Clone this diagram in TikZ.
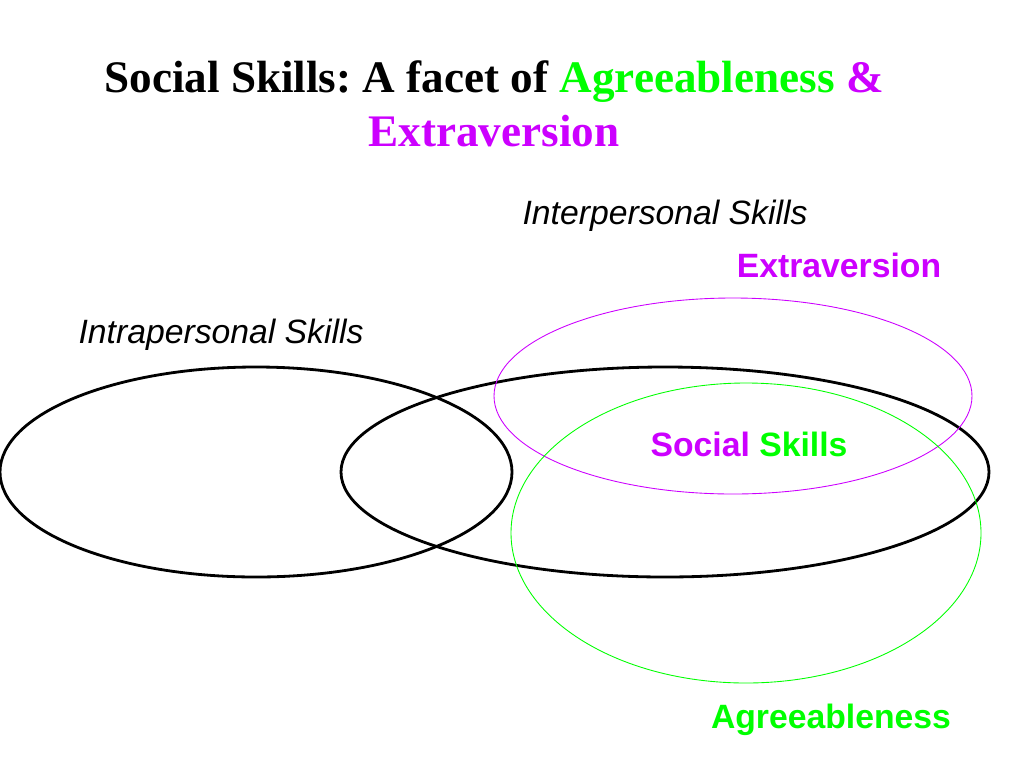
\documentclass[tikz,border=0pt]{standalone}
\usepackage{fontspec}
\setmainfont{Liberation Serif}
\setsansfont{Liberation Sans}
\usetikzlibrary{positioning}
\frenchspacing

\definecolor{extra}{RGB}{204,0,255}
\definecolor{agree}{RGB}{0,255,0}

\begin{document}
\begin{tikzpicture}[
            x=0.02cm, y=-0.02cm,
            title/.style={anchor=base, inner sep=0pt, font=\fontsize{25.7}{30}\selectfont\bfseries},
            skill/.style={anchor=base, inner sep=0pt, font=\fontsize{19.2}{22}\selectfont\sffamily\itshape},
            trait/.style={anchor=base, inner sep=0pt, font=\fontsize{19.2}{22}\selectfont\sffamily\bfseries},
            circ/.style={draw, line width=1.6pt},
            thin/.style={draw, line width=0.5pt}
        ]
            \useasboundingbox (0,0) rectangle (1024,768);

            % title
            \node[title] (title1) at (494,92) {Social Skills: A facet of \textcolor{agree}{Agreeableness} \textcolor{extra}{\&}};
            \node[title, text=extra] (title2) at (494,146) {Extraversion};

            % ellipses
            \draw[circ] (256,472) ellipse [x radius=256, y radius=105];
            \draw[circ] (665,472) ellipse [x radius=324, y radius=105];
            \draw[thin, extra] (733,396) ellipse [x radius=239, y radius=98];
            \draw[thin, agree] (746,533) ellipse [x radius=235, y radius=150];

            % labels
            \node[skill] (inter) at (665,224) {Interpersonal Skills};
            \node[skill] (intra) at (221,343) {Intrapersonal Skills};
            \node[trait, text=extra] (extrav) at (839,277) {Extraversion};
            \node[trait] (social) at (749,456) {\textcolor{extra}{Social} \textcolor{agree}{Skills}};
            \node[trait, text=agree] (agreeab) at (831,728) {Agreeableness};
        \end{tikzpicture}
\end{document}
